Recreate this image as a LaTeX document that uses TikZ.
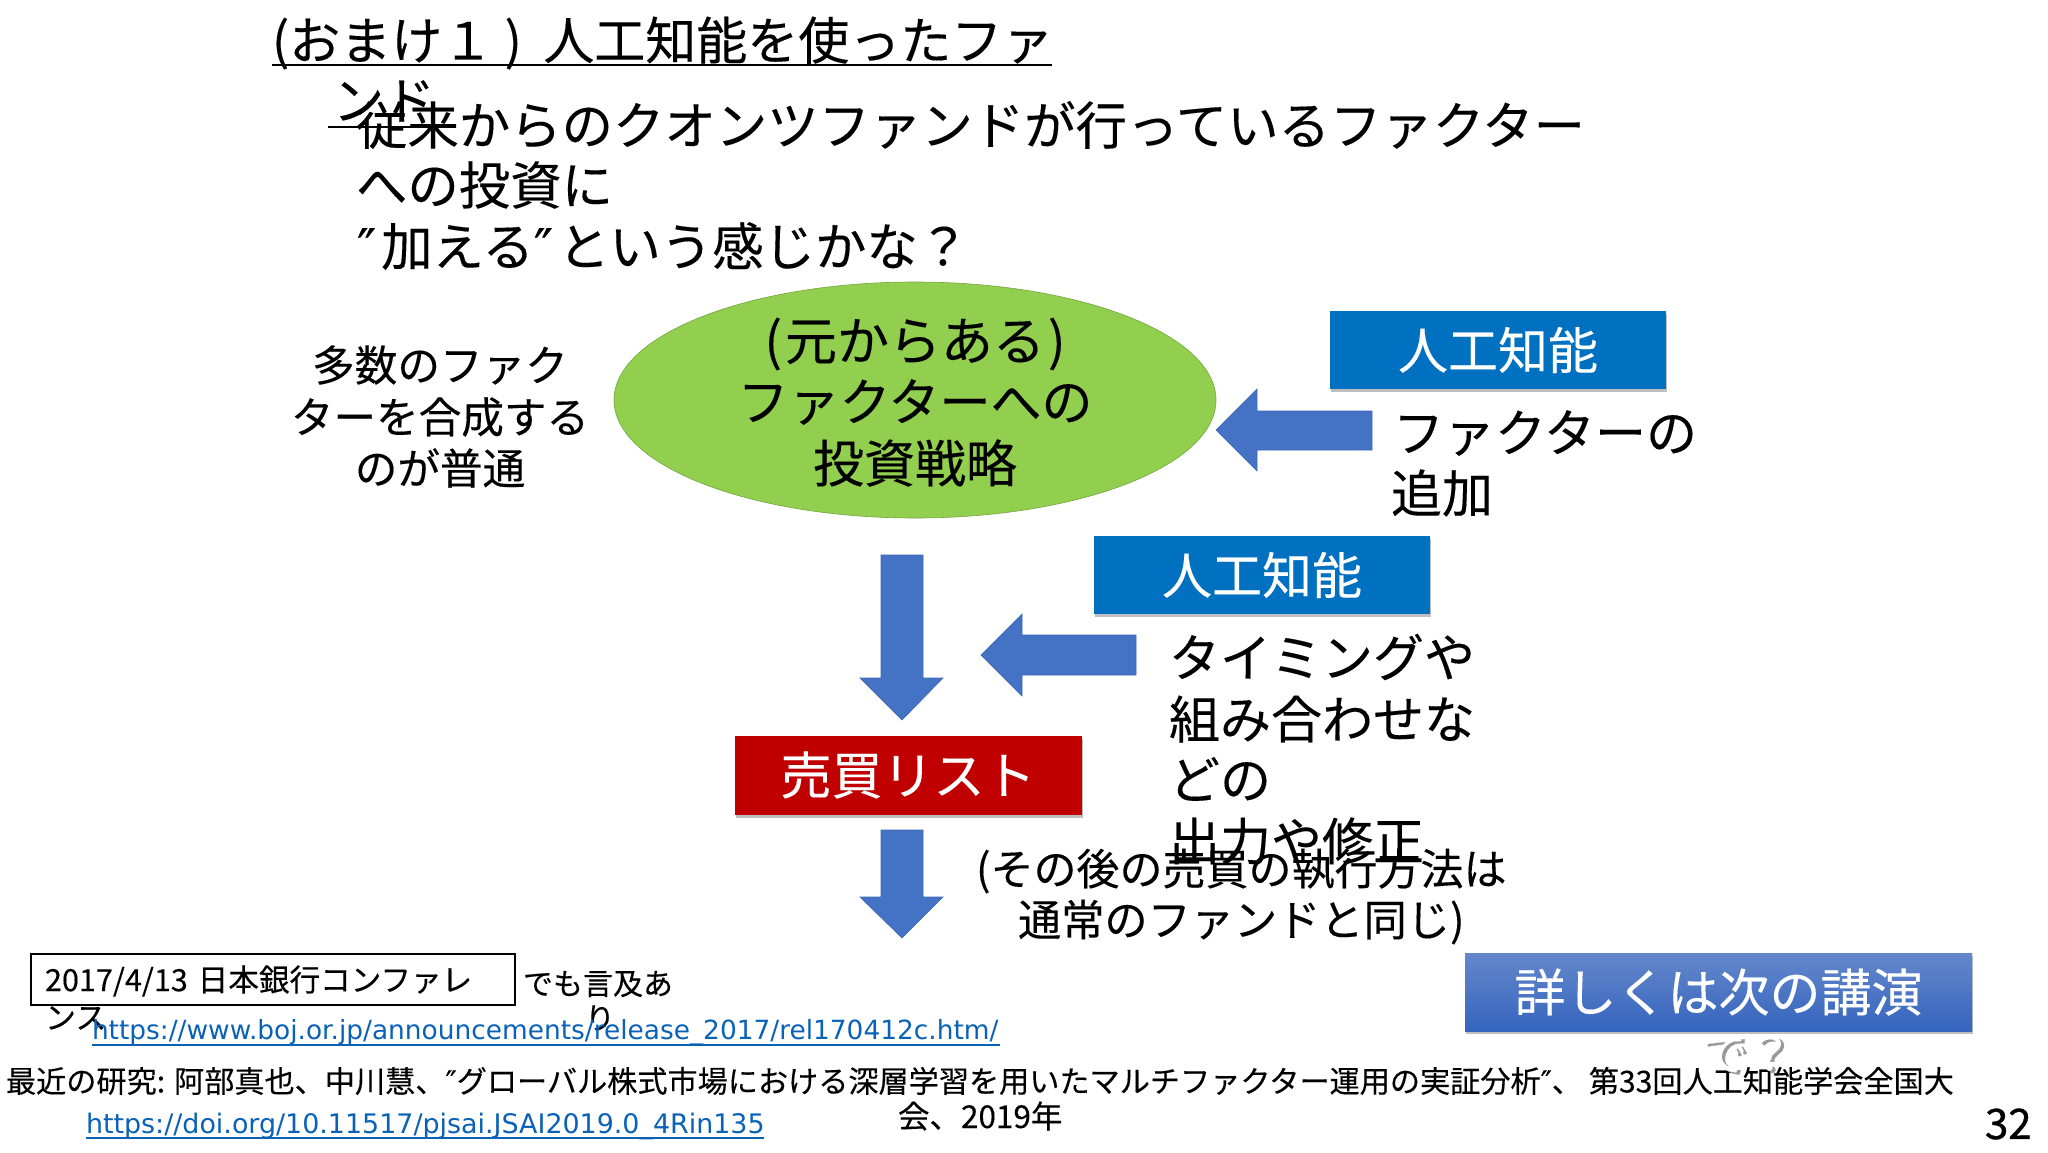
\documentclass[tikz,border=0pt]{standalone}
\usepackage{fontspec}
\setmainfont{Noto Sans CJK JP}[FakeBold=0.25]
\newfontfamily\lat{DejaVu Sans}
\newfontfamily\latb{DejaVu Sans}[FakeBold=0.25]
\newfontfamily\numf{Noto Sans CJK JP}[FakeBold=0.9]
\usetikzlibrary{shadows}
\newcommand{\fs}[1]{\fontsize{#1}{#1}\selectfont}
\tikzset{
 txt/.style={inner sep=0pt,outer sep=0pt,anchor=west,text=black,font=\fs{#1}},
 ctr/.style={inner sep=0pt,outer sep=0pt,anchor=center,align=center,text=black,font=\fs{#1}},
 lnk/.style={inner sep=0pt,outer sep=0pt,anchor=west,text=linkblue,font=\lat\fs{#1}},
 softshadow/.style={drop shadow={shadow xshift=1pt,shadow yshift=-3pt,opacity=.25,fill=black}},
 bluebox/.style={fill=boxblue,draw=none,minimum width=336pt,minimum height=78pt,inner sep=0pt,text=white,font=\fs{50},softshadow},
 redbox/.style={fill=boxred,draw=none,minimum width=347pt,minimum height=79pt,inner sep=0pt,text=white,font=\fs{51},softshadow},
 blockarrow/.style={fill=arrowblue,draw=arrowline,line width=.6pt},
 rule/.style={line width=2pt,black},
 linkrule/.style={line width=1.6pt,linkblue}
}
\definecolor{boxblue}{HTML}{0070C0}
\definecolor{boxred}{HTML}{C00000}
\definecolor{arrowblue}{HTML}{4472C4}
\definecolor{arrowline}{HTML}{3F68B5}
\definecolor{ellgreen}{HTML}{92CF4E}
\definecolor{linkblue}{HTML}{0A62B8}
\definecolor{gradtop}{HTML}{6487CB}
\definecolor{gradbot}{HTML}{3565BE}
\begin{document}
\begin{tikzpicture}[x=1pt,y=-1pt]
\useasboundingbox[fill=white] (0,0) rectangle (2048,1152);
% title
\node[txt=51] (t1) at (272,43) {(おまけ１ )\hspace{10pt} 人工知能を使ったファ};
\node[txt=51] (t2) at (333,101) {ンド};
\coordinate (u1a) at (272,65); \coordinate (u1b) at (1052,65);
\coordinate (u2a) at (328,127); \coordinate (u2b) at (436,127);
\draw[rule] (u1a) -- (u1b);
\draw[rule] (u2a) -- (u2b);
% body
\node[txt=51.4] (b1) at (356,125) {従来からのクオンツファンドが行っているファクター};
\node[txt=51.4] (b2) at (356,185) {への投資に};
\node[txt=51.4] (b3) at (357,246) {{\latb ″}\hspace{5pt}加える{\latb ″}\hspace{5pt}という感じかな？};
% ellipse
\fill[ellgreen] (915,400) ellipse [x radius=301,y radius=118];
\draw[ellgreen!80!black,line width=.6pt] (915,400) ellipse [x radius=301,y radius=118];
\node[ctr=52] (e1) at (915,344) {(\hspace{3pt}元からある\hspace{3pt})};
\node[ctr=51] (e2) at (915,402) {ファクターへの};
\node[ctr=51] (e3) at (915,463) {投資戦略};
% left
\node[ctr=42.6] (l1) at (440,365) {多数のファク};
\node[ctr=42.6] (l2) at (440,417) {ターを合成する};
\node[ctr=42.6] (l3) at (440,468) {のが普通};
% boxes
\node[bluebox] (ai1) at (1498,350) {人工知能};
\node[bluebox] (ai2) at (1262,575) {人工知能};
\node[redbox] (list) at (908,775) {売買リスト};
% arrows
\draw[blockarrow] (1216,430) -- (1257,389) -- (1257,411) -- (1372,411) -- (1372,450) -- (1257,450) -- (1257,471) -- cycle;
\draw[blockarrow] (981,655) -- (1022,614) -- (1022,635) -- (1136,635) -- (1136,675) -- (1022,675) -- (1022,696) -- cycle;
\draw[blockarrow] (881,555) -- (923,555) -- (923,678) -- (943,678) -- (902,720) -- (860,678) -- (881,678) -- cycle;
\draw[blockarrow] (881,830) -- (923,830) -- (923,897) -- (943,897) -- (902,938) -- (860,897) -- (881,897) -- cycle;
% right labels
\node[txt=51] (r1) at (1393,433) {ファクターの};
\node[txt=51] (r2) at (1391,493) {追加};
\node[txt=51] (r3) at (1169,657) {タイミングや};
\node[txt=51] (r4) at (1169,719) {組み合わせな};
\node[txt=51] (r5) at (1169,779) {どの};
\node[txt=51] (r6) at (1169,841) {出力や修正};
\node[txt=43] (r7) at (976,871) {(その後の売買の執行方法は};
\node[txt=43.2] (r8) at (1018,922) {通常のファンドと同じ)};
% reference box
\node[draw=black,line width=1.6pt,minimum width=484pt,minimum height=51pt,inner sep=0pt,anchor=north west] (conf) at (30,953) {};
\node[txt=30.6] (c1) at (45,981) {2017/4/13\hspace{3pt} 日本銀行コンファレ};
\node[txt=31] (c2) at (45,1018) {ンス};
\node[txt=30] (c3) at (523,984) {でも言及あ};
\node[txt=30] (c4) at (585,1018) {り};
\node[lnk=26.4] (url1) at (92,1033) {https://www.boj.or.jp/announcements/release\_2017/rel170412c.htm/};
\coordinate (ul1a) at (92,1045); \coordinate (ul1b) at (1000,1045);
\draw[linkrule] (ul1a) -- (ul1b);
% research
\node[txt=30.15] (res1) at (6,1081) {最近の研究: 阿部真也、中川慧、{\latb ″}グローバル株式市場における深層学習を用いたマルチファクター運用の実証分析{\latb ″}、 第33回人工知能学会全国大};
\node[txt=31.5] (res2) at (898,1116) {会、2019年};
\node[lnk=26.9] (url2) at (86,1126) {https://doi.org/10.11517/pjsai.JSAI2019.0\_4Rin135};
\coordinate (ul2a) at (86,1138); \coordinate (ul2b) at (764,1138);
\draw[linkrule] (ul2a) -- (ul2b);
% next talk
\node[minimum width=507pt,minimum height=78pt,inner sep=0pt,top color=gradtop,bottom color=gradbot,text=white,font=\fs{51},softshadow] (next) at (1718.5,992) {\raisebox{-2pt}{詳しくは次の講演}};
\node[ctr=46,text=black!40,font=\numf\fs{46}] (q0) at (1750,1056) {で？};
\node[ctr=46,text=white] (q1) at (1747,1054) {で？};
\node[txt=42,font=\numf\fs{42}] (num) at (1985,1124) {32};
\end{tikzpicture}
\end{document}
